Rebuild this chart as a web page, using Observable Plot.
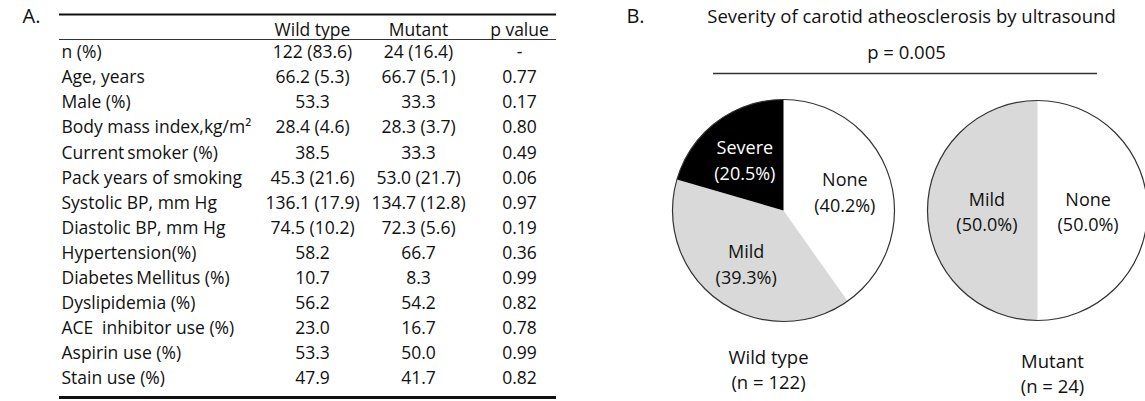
<!DOCTYPE html>
<html>
<head>
<meta charset="utf-8">
<script src="https://cdn.jsdelivr.net/npm/d3@7"></script>
<script src="https://cdn.jsdelivr.net/npm/@observablehq/plot@0.6"></script>
<style>
  html, body { margin: 0; padding: 0; background: #fff; }
  #chart svg { display: block; }
</style>
</head>
<body>
<div id="chart"></div>
<script>
// ---------- Data (panel A table) ----------
const headers = ["Wild type", "Mutant", "p value"];
const rowLabels = [
  "n (%)", "Age, years", "Male (%)", "Body mass index,kg/m\u00B2", "Current\u2009smoker (%)",
  "Pack years of smoking", "Systolic BP, mm Hg", "Diastolic BP, mm Hg", "Hypertension(%)",
  "Diabetes\u2009Mellitus (%)", "Dyslipidemia (%)", "ACE\u2002inhibitor use (%)",
  "Aspirin use (%)", "Stain use (%)"
];
const wildValues = ["122 (83.6)", "66.2 (5.3)", "53.3", "28.4 (4.6)", "38.5", "45.3 (21.6)",
  "136.1 (17.9)", "74.5 (10.2)", "58.2", "10.7", "56.2", "23.0", "53.3", "47.9"];
const mutantValues = ["24 (16.4)", "66.7 (5.1)", "33.3", "28.3 (3.7)", "33.3", "53.0 (21.7)",
  "134.7 (12.8)", "72.3 (5.6)", "66.7", "8.3", "54.2", "16.7", "50.0", "41.7"];
const pValues = ["-", "0.77", "0.17", "0.80", "0.49", "0.06", "0.97", "0.19", "0.36",
  "0.99", "0.82", "0.78", "0.99", "0.82"];

// ---------- Data (panel B pies) ----------
const pieTitle = "Severity of carotid atheosclerosis by ultrasound";
const pieP = "p = 0.005";
const severityCategories = ["None", "Mild", "Severe"];
const groups = ["Wild type", "Mutant"];
const groupN = [122, 24];
const wildPct = [40.2, 39.3, 20.5];
const mutantPct = [50.0, 50.0, 0.0];

// ---------- Layout ----------
const W = 1145, H = 401;
const FONT = "'Open Sans', 'Noto Sans', sans-serif";
const INK = "#111";
const TABLE_FS = 17.5;
const rowY0 = 52, rowStep = 25.1;
const colX = {label: 61, wild: 312, mutant: 418, p: 519};
const pieLayout = [
  {cx: 783, cy: 210, r: 111, labelR: 0.58, captionX: 768, captionY: 368},
  {cx: 1037, cy: 210, r: 110, labelR: 0.46, captionX: 1052, captionY: 372}
];
const pcts = [wildPct, mutantPct];

// table cells
const labelCells = [], valueCells = [];
rowLabels.forEach((lab, i) => {
  const y = rowY0 + i * rowStep;
  labelCells.push({x: colX.label, y, text: lab});
  valueCells.push({x: colX.wild, y, text: wildValues[i]});
  valueCells.push({x: colX.mutant, y, text: mutantValues[i]});
  valueCells.push({x: colX.p, y, text: pValues[i]});
});
const headerCells = headers.map((h, j) => ({x: [colX.wild, colX.mutant, colX.p][j], y: 30, text: h}));

// pie slices (clockwise from 12 o'clock)
const slicePts = [];
const sliceLabels = [];
const captions = [];
groups.forEach((g, gi) => {
  const L = pieLayout[gi];
  const vals = pcts[gi];
  const total = d3.sum(vals);
  let acc = 0;
  vals.forEach((v, k) => {
    if (v <= 0) { return; }
    const a0 = acc / total * 2 * Math.PI;
    acc += v;
    const a1 = acc / total * 2 * Math.PI;
    const key = g + "-" + severityCategories[k];
    slicePts.push({key, cat: severityCategories[k], x: L.cx, y: L.cy});
    const n = Math.max(2, Math.ceil((a1 - a0) / (Math.PI / 180)));
    for (let s = 0; s <= n; s++) {
      const a = a0 + (a1 - a0) * s / n;
      slicePts.push({key, cat: severityCategories[k], x: L.cx + L.r * Math.sin(a), y: L.cy - L.r * Math.cos(a)});
    }
    slicePts.push({key, cat: severityCategories[k], x: L.cx, y: L.cy});
    const am = (a0 + a1) / 2;
    sliceLabels.push({
      x: L.cx + L.r * L.labelR * Math.sin(am),
      y: L.cy - L.r * L.labelR * Math.cos(am),
      text: severityCategories[k] + "\n(" + v.toFixed(1) + "%)",
      cat: severityCategories[k]
    });
  });
  captions.push({x: L.captionX, y: L.captionY, text: g + "\n(n = " + groupN[gi] + ")"});
});

const chart = Plot.plot({
  width: W,
  height: H,
  margin: 0,
  x: {domain: [0, W], range: [0, W], axis: null},
  y: {domain: [0, H], range: [0, H], axis: null},
  r: {type: "identity"},
  color: {domain: severityCategories, range: ["#ffffff", "#d9d9d9", "#000000"]},
  style: {fontFamily: FONT, background: "#fff"},
  marks: [
    // panel letters
    Plot.text(["A.", "B."], {x: (d, i) => [31, 635][i], y: 16, text: d => d, fontSize: 20, fill: INK}),
    // table rules
    Plot.ruleY([14], {x1: 59, x2: 556, strokeWidth: 2, stroke: INK}),
    Plot.ruleY([39], {x1: 59, x2: 556, strokeWidth: 1, stroke: "#333"}),
    Plot.ruleY([397], {x1: 59, x2: 556, strokeWidth: 3, stroke: INK}),
    // table header and cells
    Plot.text(headerCells, {x: "x", y: "y", text: "text", fontSize: TABLE_FS, fill: INK}),
    Plot.text(labelCells, {x: "x", y: "y", text: "text", textAnchor: "start", fontSize: TABLE_FS, fill: INK}),
    Plot.text(valueCells, {x: "x", y: "y", text: "text", fontSize: TABLE_FS, fill: INK}),
    // panel B title
    Plot.text([pieTitle], {x: 911, y: 17, text: d => d, fontSize: 18.5, fill: INK}),
    Plot.text([pieP], {x: 906, y: 53, text: d => d, fontSize: 18.5, fill: INK}),
    Plot.ruleY([73], {x1: 713, x2: 1097, strokeWidth: 1.3, stroke: "#333"}),
    // pie slices
    Plot.line(slicePts, {x: "x", y: "y", z: "key", fill: "cat", stroke: null, curve: "linear"}),
    Plot.dot(pieLayout, {x: "cx", y: "cy", r: "r", fill: "none", stroke: "#333", strokeWidth: 1.2}),
    // slice labels
    Plot.text(sliceLabels, {x: "x", y: "y", text: "text", fontSize: 18, lineHeight: 1.4,
      fill: d => d.cat === "Severe" ? "#ffffff" : INK}),
    // captions
    Plot.text(captions, {x: "x", y: "y", text: "text", fontSize: 18.5, lineHeight: 1.35, fill: INK})
  ]
});
document.getElementById("chart").appendChild(chart);
</script>
</body>
</html>
